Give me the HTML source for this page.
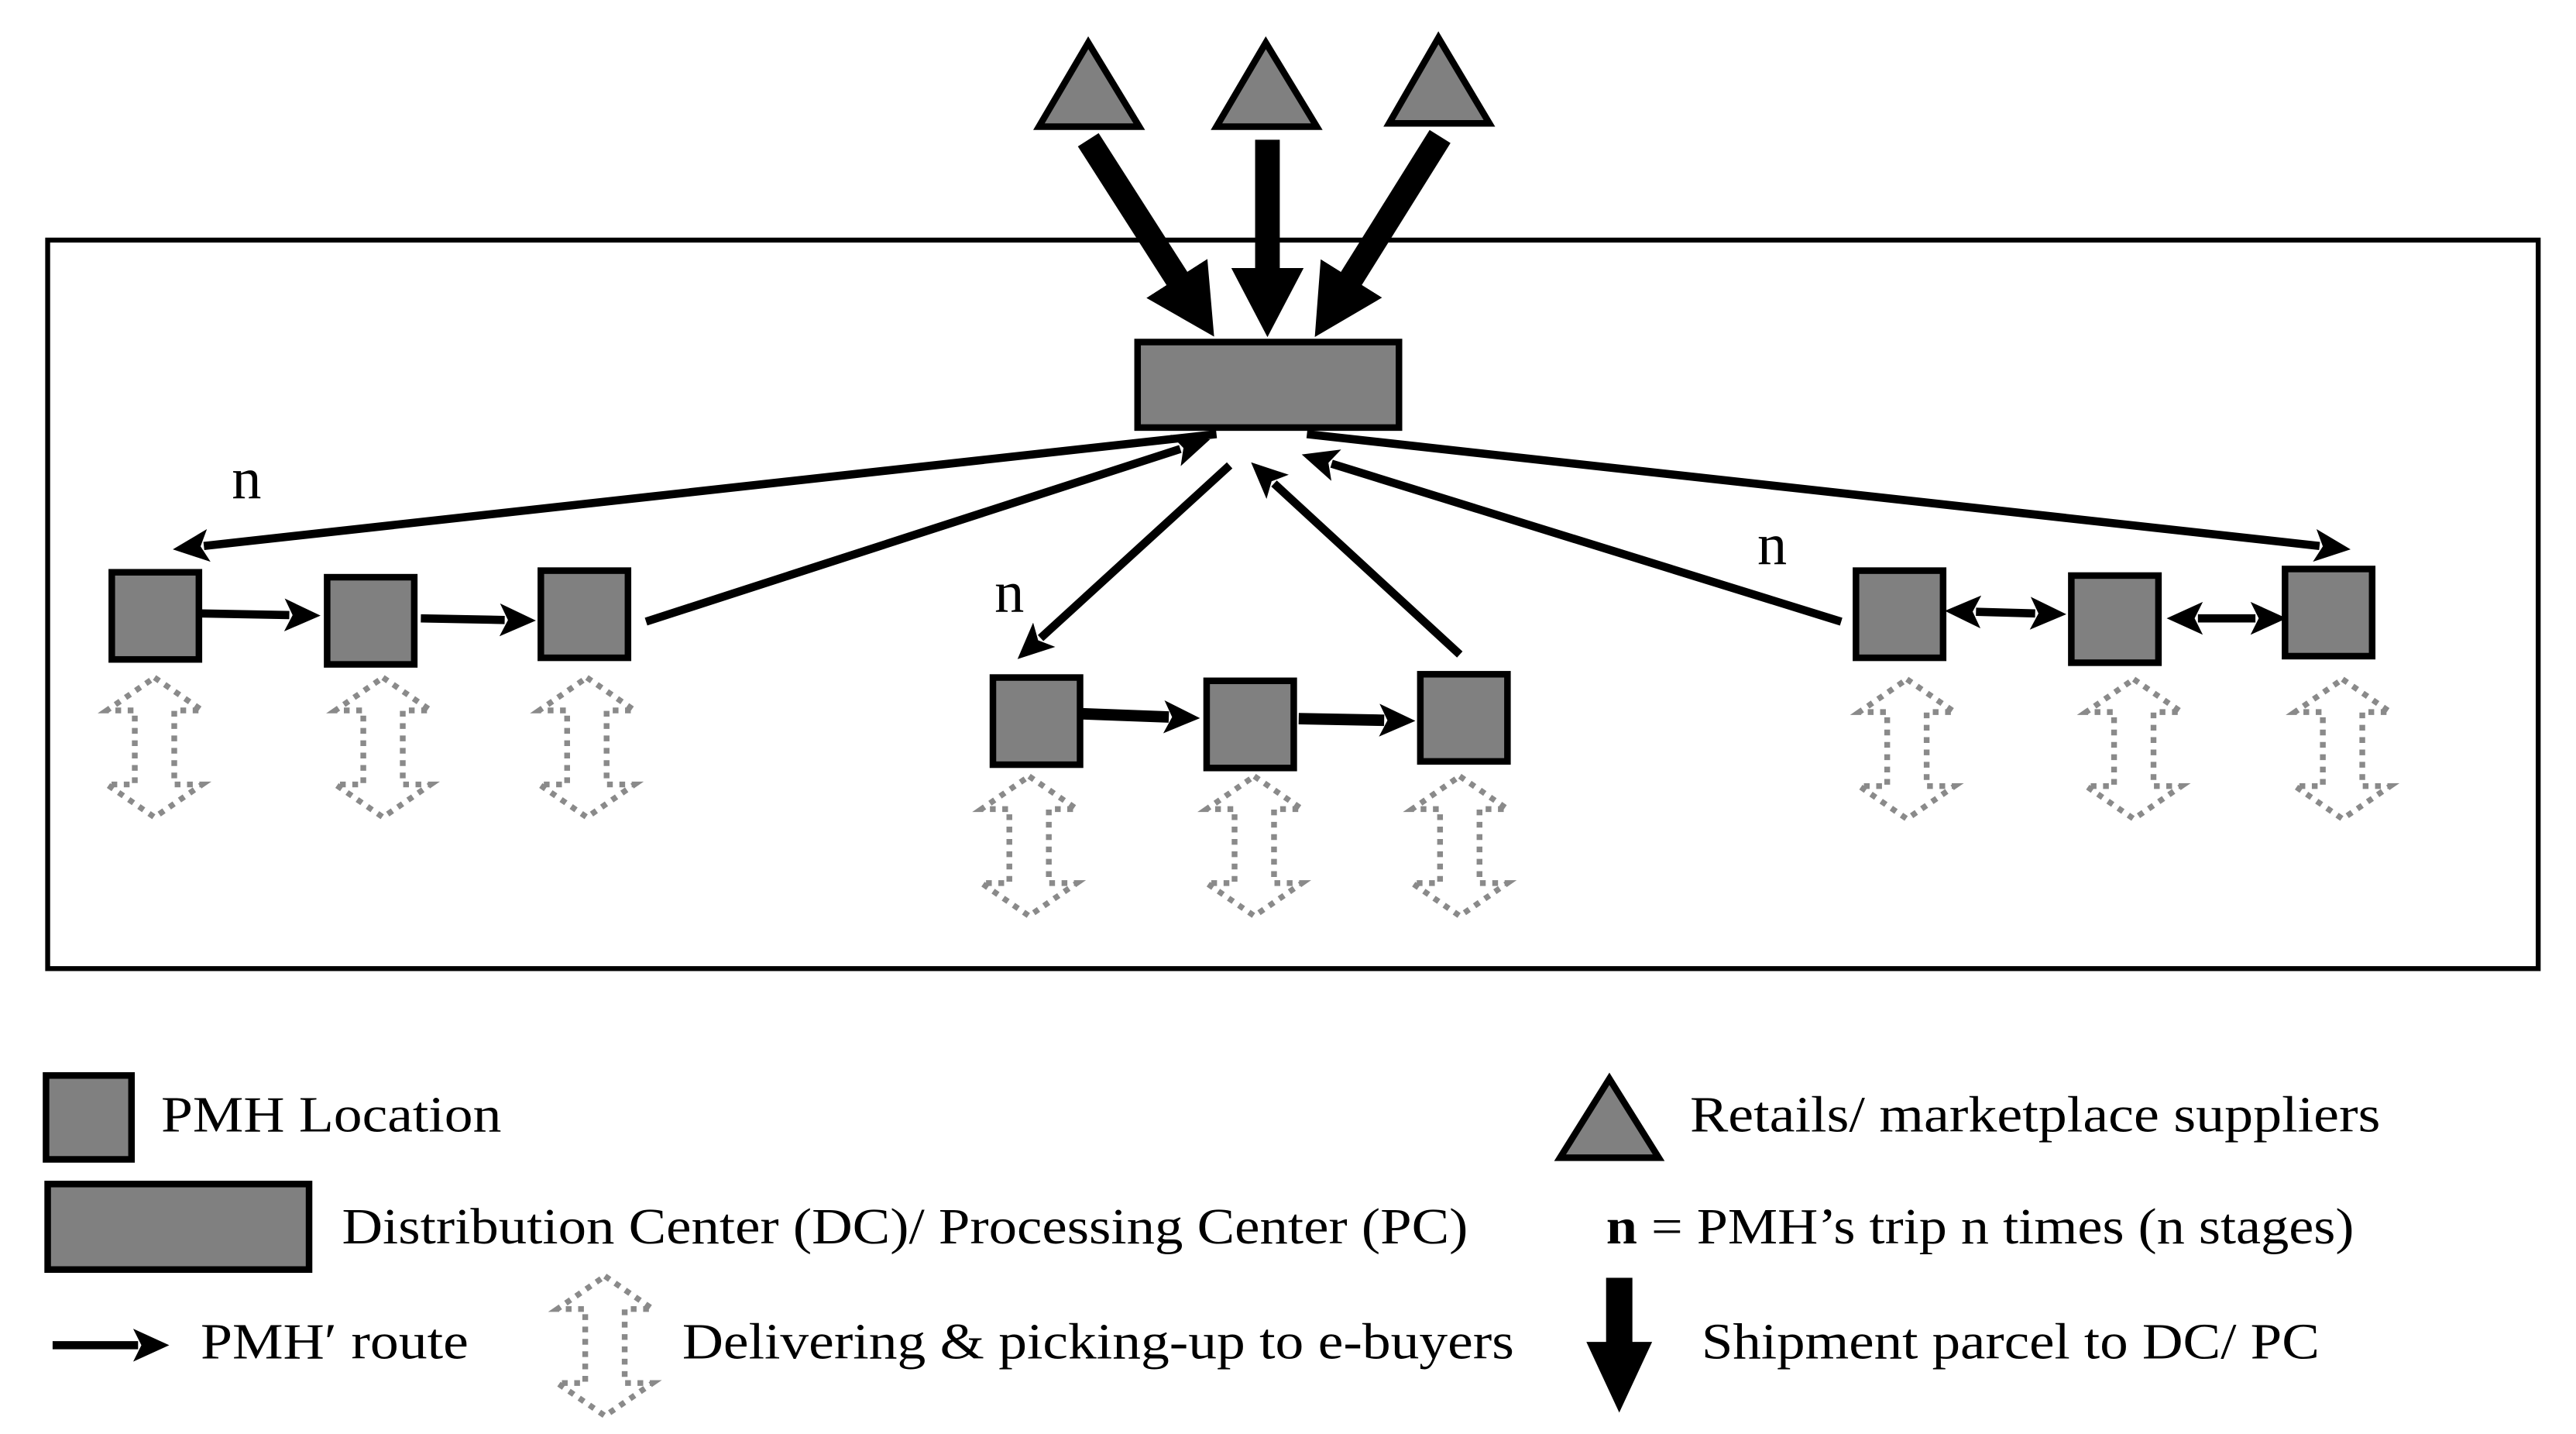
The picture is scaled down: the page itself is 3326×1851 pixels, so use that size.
<!DOCTYPE html>
<html><head><meta charset="utf-8"><style>
html,body{margin:0;padding:0;background:#fff;}
svg{display:block;}
text{font-family:"Liberation Serif",serif;fill:#000;}
</style></head><body>
<svg width="3326" height="1851" viewBox="0 0 1567 872" preserveAspectRatio="none" xmlns="http://www.w3.org/2000/svg">
<defs>
<marker id="th" markerUnits="userSpaceOnUse" markerWidth="22" markerHeight="20" refX="3" refY="10" orient="auto-start-reverse" viewBox="0 0 22 20"><path d="M0,0 L22,10 L0,20 L5,10 Z" fill="#000"/></marker>
<marker id="tk" markerUnits="userSpaceOnUse" markerWidth="42" markerHeight="44" refX="2" refY="22" orient="auto" viewBox="0 0 42 44"><path d="M0,0 L42,22 L0,44 Z" fill="#000"/></marker>
<g id="da"><path d="M0,0 L29,20 L12,20 L12,65 L29,65 L0,85 L-29,65 L-12,65 L-12,20 L-29,20 Z" fill="none" stroke="#8a8a8a" stroke-width="3.5" stroke-dasharray="3.5,4"/></g>
</defs>

<rect x="29" y="146" width="1515" height="443" fill="none" stroke="#000" stroke-width="3"/>

<g fill="#808080" stroke="#000" stroke-width="4" stroke-linejoin="miter">
<polygon points="662,26 632,77 693,77"/>
<polygon points="770,26 740,77 801,77"/>
<polygon points="875,23 845,75 906,75"/>
</g>

<g stroke="#000" stroke-width="15">
<line x1="662" y1="85" x2="717" y2="171" marker-end="url(#tk)"/>
<line x1="771" y1="85" x2="771" y2="165" marker-end="url(#tk)"/>
<line x1="876" y1="83" x2="821" y2="171" marker-end="url(#tk)"/>
</g>

<rect x="692" y="208" width="159" height="52" fill="#808080" stroke="#000" stroke-width="4"/>

<g stroke="#000" stroke-width="5">
<line x1="740" y1="264" x2="124" y2="332" marker-end="url(#th)"/>
<line x1="393" y1="378" x2="718" y2="273" marker-end="url(#th)"/>
<line x1="748" y1="283" x2="633" y2="388" marker-end="url(#th)"/>
<line x1="888" y1="398" x2="775" y2="294" marker-end="url(#th)"/>
<line x1="1120" y1="378" x2="810" y2="282" marker-end="url(#th)"/>
<line x1="795" y1="264" x2="1411" y2="332" marker-end="url(#th)"/>
<line x1="122" y1="373" x2="176" y2="374" marker-end="url(#th)"/>
<line x1="256" y1="376" x2="307" y2="377" marker-end="url(#th)"/>
<line x1="1202" y1="372" x2="1238" y2="373" marker-start="url(#th)" marker-end="url(#th)"/>
<line x1="1337" y1="376" x2="1372" y2="376" marker-start="url(#th)" marker-end="url(#th)"/>
</g>
<g stroke="#000" stroke-width="7">
<line x1="657" y1="434" x2="711" y2="436" marker-end="url(#th)"/>
<line x1="790" y1="437" x2="842" y2="438" marker-end="url(#th)"/>
</g>

<g fill="#808080" stroke="#000" stroke-width="4">
<rect x="68" y="348" width="53" height="53"/>
<rect x="199" y="351" width="53" height="53"/>
<rect x="329" y="347" width="53" height="53"/>
<rect x="604" y="412" width="53" height="53"/>
<rect x="734" y="414" width="53" height="53"/>
<rect x="864" y="410" width="53" height="53"/>
<rect x="1129" y="347" width="53" height="53"/>
<rect x="1260" y="350" width="53" height="53"/>
<rect x="1390" y="346" width="53" height="53"/>
</g>

<use href="#da" x="94" y="412"/>
<use href="#da" x="233" y="412"/>
<use href="#da" x="357" y="412"/>
<use href="#da" x="626" y="472"/>
<use href="#da" x="763" y="472"/>
<use href="#da" x="888" y="472"/>
<use href="#da" x="1160" y="413"/>
<use href="#da" x="1298" y="413"/>
<use href="#da" x="1425" y="413"/>

<text x="141" y="303" font-size="36">n</text>
<text x="605" y="372" font-size="36">n</text>
<text x="1069" y="343" font-size="36">n</text>

<!-- Legend -->
<rect x="28" y="654" width="52" height="51" fill="#808080" stroke="#000" stroke-width="4"/>
<text x="98" y="688" font-size="31" textLength="207" lengthAdjust="spacingAndGlyphs">PMH Location</text>
<rect x="29" y="720" width="159" height="52" fill="#808080" stroke="#000" stroke-width="4"/>
<text x="208" y="756" font-size="31" textLength="685" lengthAdjust="spacingAndGlyphs">Distribution Center (DC)/ Processing Center (PC)</text>
<line x1="32" y1="818" x2="84" y2="818" stroke="#000" stroke-width="5" marker-end="url(#th)"/>
<text x="122" y="826" font-size="31" textLength="163" lengthAdjust="spacingAndGlyphs">PMH′ route</text>
<use href="#da" x="368" y="776"/>
<text x="415" y="826" font-size="31" textLength="506" lengthAdjust="spacingAndGlyphs">Delivering &amp; picking-up to e-buyers</text>
<polygon points="979,656 949,704 1009,704" fill="#808080" stroke="#000" stroke-width="4"/>
<text x="1028" y="688" font-size="31" textLength="420" lengthAdjust="spacingAndGlyphs">Retails/ marketplace suppliers</text>
<text x="977" y="756" font-size="31" textLength="455" lengthAdjust="spacingAndGlyphs"><tspan font-weight="bold">n</tspan> = PMH’s trip n times (n stages)</text>
<line x1="985" y1="777" x2="985" y2="818" stroke="#000" stroke-width="16"/>
<polygon points="965,816 1005,816 985,859" fill="#000"/>
<text x="1035" y="826" font-size="31" textLength="376" lengthAdjust="spacingAndGlyphs">Shipment parcel to DC/ PC</text>
</svg>
</body></html>
